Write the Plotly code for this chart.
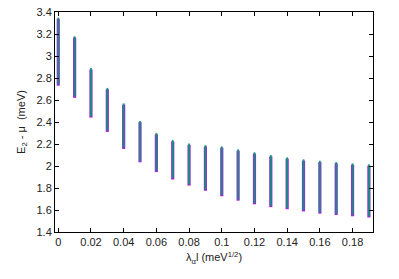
import plotly.graph_objects as go

lam = [0.00, 0.01, 0.02, 0.03, 0.04, 0.05, 0.06, 0.07, 0.08, 0.09,
       0.10, 0.11, 0.12, 0.13, 0.14, 0.15, 0.16, 0.17, 0.18, 0.19]
e_top = [3.35, 3.18, 2.89, 2.71, 2.57, 2.41, 2.30, 2.236, 2.205, 2.19,
         2.179, 2.152, 2.125, 2.10, 2.079, 2.061, 2.048, 2.036, 2.024, 2.015]
e_bottom = [2.73, 2.62, 2.44, 2.31, 2.155, 2.034, 1.945, 1.877, 1.822, 1.775,
            1.725, 1.685, 1.652, 1.626, 1.607, 1.587, 1.567, 1.555, 1.543, 1.532]

def segs(x, lo, hi, dlo, dhi):
    xs, ys = [], []
    for xi, a, b in zip(x, lo, hi):
        xs += [xi, xi, None]
        ys += [a + dlo, b + dhi, None]
    return xs, ys

px, py = segs(lam, e_bottom, e_top, 0.0, -0.012)
tx, ty = segs(lam, e_bottom, e_top, 0.012, 0.0)

fig = go.Figure()
fig.add_trace(go.Scatter(x=px, y=py, mode="lines",
                         line=dict(color="#9400D3", width=3.2), opacity=0.85, showlegend=False))
fig.add_trace(go.Scatter(x=tx, y=ty, mode="lines",
                         line=dict(color="#009E73", width=1.8), opacity=0.9, showlegend=False))

axis_common = dict(showline=True, linecolor="black", linewidth=1, mirror="ticks",
                   ticks="inside", ticklen=4, tickcolor="black", showgrid=False,
                   zeroline=False, automargin=False, ticklabeloverflow="allow",
                   tickfont=dict(family="Liberation Sans", size=11, color="#222"))

fig.update_layout(
    width=399, height=279,
    margin=dict(l=55, r=26, t=12, b=47),
    paper_bgcolor="white", plot_bgcolor="white",
    font=dict(family="Liberation Sans", size=11, color="#222"),
    xaxis=dict(range=[-0.002, 0.1925], tickvals=[0, 0.02, 0.04, 0.06, 0.08, 0.10, 0.12, 0.14, 0.16, 0.18],
               ticktext=["0", "0.02", "0.04", "0.06", "0.08", "0.1", "0.12", "0.14", "0.16", "0.18"],
               title=dict(text="λ<sub>α</sub>l (meV<sup>1/2</sup>)", standoff=6,
                          font=dict(family="Liberation Sans", size=11)),
               **axis_common),
    yaxis=dict(range=[1.4, 3.4], dtick=0.2, tickformat="~g",
               title=dict(text="E<sub>2</sub> - μ  (meV)", standoff=8,
                          font=dict(family="Liberation Sans", size=11)),
               **axis_common),
)

fig.write_html("out.html", config={"displayModeBar": False},
               post_script="document.body.style.margin='0';document.body.style.overflow='hidden';")
